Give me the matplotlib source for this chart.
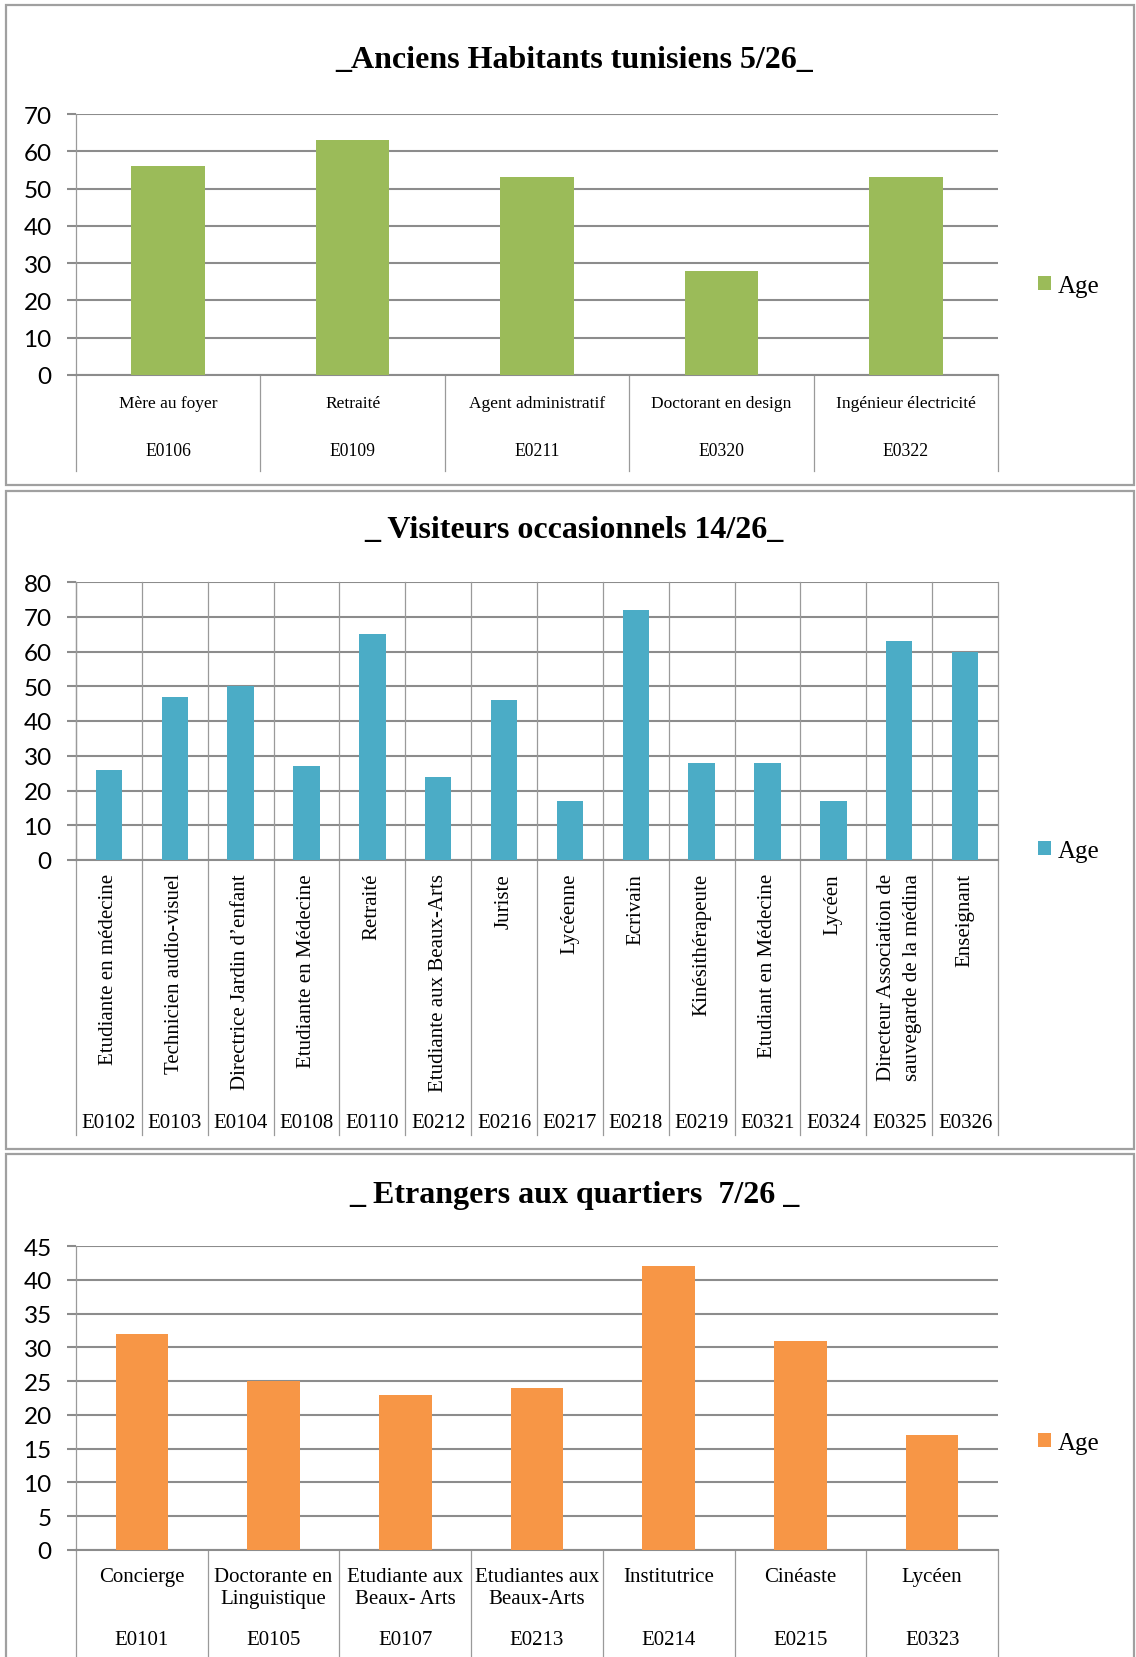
import numpy as np
import matplotlib
matplotlib.use("Agg")
import matplotlib.pyplot as plt
from matplotlib.patches import Rectangle

plt.rcParams['font.family'] = ['Liberation Serif', 'DejaVu Serif']

# Anciens habitants tunisiens
anciens_metiers = ["Mère au foyer", "Retraité", "Agent administratif",
                   "Doctorant en design", "Ingénieur électricité"]
anciens_codes = ["E0106", "E0109", "E0211", "E0320", "E0322"]
anciens_ages = [56, 63, 53, 28, 53]

# Visiteurs occasionnels
visiteurs_metiers = ["Etudiante en médecine", "Technicien audio-visuel",
                     "Directrice Jardin d\u2019enfant", "Etudiante en Médecine",
                     "Retraité", "Etudiante aux Beaux-Arts", "Juriste", "Lycéenne",
                     "Ecrivain", "Kinésithérapeute", "Etudiant en Médecine", "Lycéen",
                     "Directeur Association de\nsauvegarde de la médina", "Enseignant"]
visiteurs_codes = ["E0102", "E0103", "E0104", "E0108", "E0110", "E0212", "E0216",
                   "E0217", "E0218", "E0219", "E0321", "E0324", "E0325", "E0326"]
visiteurs_ages = [26, 47, 50, 27, 65, 24, 46, 17, 72, 28, 28, 17, 63, 60]

# Etrangers aux quartiers
etrangers_metiers = ["Concierge", "Doctorante en\nLinguistique", "Etudiante aux\nBeaux- Arts",
                     "Etudiantes aux\nBeaux-Arts", "Institutrice", "Cinéaste", "Lycéen"]
etrangers_codes = ["E0101", "E0105", "E0107", "E0213", "E0214", "E0215", "E0323"]
etrangers_ages = [32, 25, 23, 24, 42, 31, 17]

W, H = 1136, 1658
GRID = '#8c8c8c'
SEP = '#9a9a9a'

fig = plt.figure(figsize=(W / 100, H / 100), dpi=100)


def add_px_axes(left, top, right, bottom):
    return fig.add_axes([left / W, 1 - bottom / H, (right - left) / W, (bottom - top) / H])


def panel_box(top, bottom):
    fig.patches.append(Rectangle((6 / W, 1 - bottom / H), (1134 - 6) / W, (bottom - top) / H,
                                 transform=fig.transFigure, fill=False,
                                 edgecolor='#a0a0a0', lw=1.6))


def draw_panel(top, bottom, label_bottom, title, title_y, metiers, codes, ages, color,
               ymax, ystep, name_y, code_y, name_size, code_size,
               rotate=False, full_sep=False, legend_y=None):
    ax = add_px_axes(76, top, 998, bottom)
    n = len(ages)
    x = np.arange(n)
    ax.bar(x, ages, width=0.4, color=color, label='Age', zorder=3)
    ax.set_xlim(-0.5, n - 0.5)
    ax.set_ylim(0, ymax)
    ax.set_yticks(range(0, ymax + 1, ystep))
    ax.set_xticks([])
    ax.yaxis.grid(True, color=GRID, lw=1.5)
    ax.set_axisbelow(True)
    for s in ['top', 'right']:
        ax.spines[s].set_visible(False)
    ax.spines['left'].set_color(SEP)
    ax.spines['left'].set_linewidth(0.9)
    ax.spines['bottom'].set_color(GRID)
    ax.spines['bottom'].set_linewidth(1.5)
    ax.tick_params(axis='y', direction='out', length=6.5, width=1.5, color=GRID,
                   pad=11, labelsize=17.5)
    for lbl in ax.get_yticklabels():
        lbl.set_family(['Lato', 'DejaVu Sans'])

    h = bottom - top
    depth = (label_bottom - bottom) / h
    tr = ax.get_xaxis_transform()
    y_top = 1 if full_sep else 0
    for b in np.arange(-0.5, n):
        ax.plot([b, b], [-depth, y_top], transform=tr, clip_on=False,
                color=SEP, lw=0.9, zorder=1)

    for i in range(n):
        if rotate:
            ax.text(i, -(name_y - bottom) / h, metiers[i], transform=tr, rotation=90,
                    ha='center', va='top', ma='center', fontsize=name_size,
                    linespacing=1.5)
        else:
            ax.text(i, -(name_y - bottom) / h, metiers[i], transform=tr,
                    ha='center', va='top', ma='center', fontsize=name_size,
                    linespacing=1.2)
        ax.text(i, -(code_y - bottom) / h, codes[i], transform=tr,
                ha='center', va='center', fontsize=code_size)

    fig.text(574 / W, 1 - title_y / H, title, ha='center', va='center',
             fontsize=23, fontweight='bold')

    ax.legend(loc='center left', bbox_to_anchor=(1038 / W, 1 - legend_y / H),
              bbox_transform=fig.transFigure, frameon=False, fontsize=18,
              handlelength=0.5, handleheight=0.5, handletextpad=0.3,
              borderpad=0, borderaxespad=0)
    return ax


panel_box(6, 486)
panel_box(492, 1150)
panel_box(1155, 1700)

draw_panel(115, 376, 472, "_Anciens Habitants tunisiens 5/26_", 60,
           anciens_metiers, anciens_codes, anciens_ages, '#9BBB59',
           70, 10, 396, 452, 12.5, 12.7, legend_y=287)

draw_panel(583, 861, 1136, "_ Visiteurs occasionnels 14/26_", 531,
           visiteurs_metiers, visiteurs_codes, visiteurs_ages, '#4BACC6',
           80, 10, 874, 1124, 15, 15, rotate=True, full_sep=True, legend_y=852)

draw_panel(1247, 1551, 1700, "_ Etrangers aux quartiers  7/26 _", 1196,
           etrangers_metiers, etrangers_codes, etrangers_ages, '#F79646',
           45, 5, 1568, 1641, 15, 15, legend_y=1444)

fig.savefig("out.png", dpi=100)
